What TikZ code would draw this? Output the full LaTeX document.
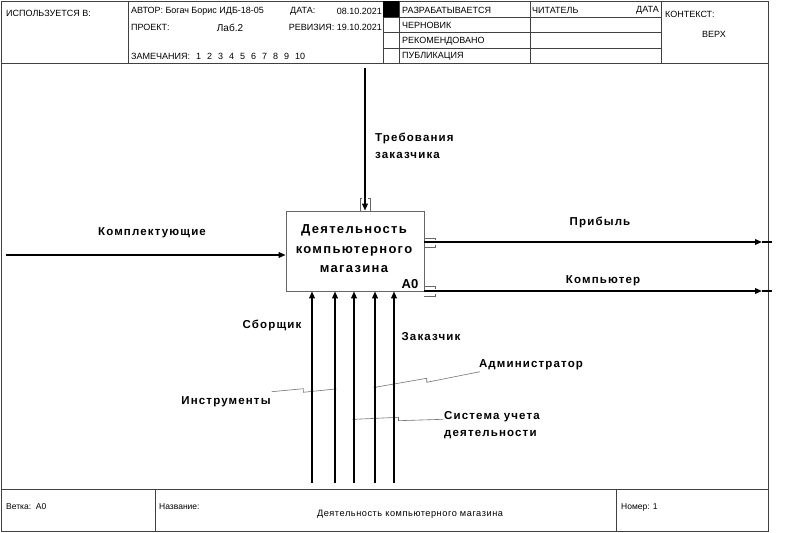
\documentclass[tikz,border=0pt]{standalone}
\usepackage{fontspec}
\setmainfont{Liberation Sans}
\newfontfamily\lblfont{Liberation Sans}[LetterSpace=10]
\newfontfamily\ftrfont{Liberation Sans}[LetterSpace=6]
\usetikzlibrary{arrows.meta}
\begin{document}
\begin{tikzpicture}[x=1pt,y=-1pt,
  frame/.style={draw=black!75, line width=0.7pt},
  hdr/.style={font=\fontsize{9}{10}\selectfont, inner sep=0, anchor=west},
  ftr/.style={font=\fontsize{8.5}{10}\selectfont, inner sep=0, anchor=west},
  lbl/.style={font=\lblfont\bfseries\fontsize{11.5}{17}\selectfont, inner sep=0, align=left},
  boxtxt/.style={font=\lblfont\bfseries\fontsize{13}{19.5}\selectfont, inner sep=0, align=center},
  flow/.style={line width=2.2pt, -{Triangle[length=7pt,width=5.5pt]}},
  plainline/.style={line width=2.2pt},
  leader/.style={draw=black!55, line width=0.6pt},
  tun/.style={draw=black!60, line width=0.6pt},
  jdot/.style={circle, fill=black, inner sep=0, minimum size=2.8pt}
]
\useasboundingbox (0,0) rectangle (799,532);
\fill[white] (0,0) rectangle (799,532);

% ---------- frame ----------
\draw[frame] (1,1) rectangle (768,531);
\draw[frame] (1,63) -- (768,63);
\draw[frame] (1,489) -- (768,489);
\foreach \x in {128,383,399,530,661} \draw[frame] (\x,1) -- (\x,63);
\foreach \y in {17,32,48} \draw[frame] (383,\y) -- (661,\y);
\fill[black] (383,1) rectangle (399,17);
\draw[frame] (155,489) -- (155,531);
\draw[frame] (616,489) -- (616,531);

% ---------- header texts ----------
\node[hdr] (used) at (6,13) {ИСПОЛЬЗУЕТСЯ В:};
\node[hdr] (author) at (131,11) {АВТОР: Богач Борис ИДБ-18-05};
\node[hdr] (datel) at (290,11) {ДАТА:};
\node[hdr,anchor=east] (datev) at (382,11) {08.10.2021};
\node[hdr] (proj) at (131,27) {ПРОЕКТ:};
\node[font=\fontsize{10}{12}\selectfont, inner sep=0] (lab) at (230,28) {Лаб.2};
\node[hdr,anchor=east] (rev) at (382,27) {РЕВИЗИЯ: 19.10.2021};
\node[hdr] (notes) at (131,56) {ЗАМЕЧАНИЯ:};
\foreach \n [count=\i] in {1,2,3,4,5,6,7,8,9,10}
  \node[hdr] (nt\i) at ({196+11*(\i-1)},56) {\n};
\node[hdr] (st1) at (402,10) {РАЗРАБАТЫВАЕТСЯ};
\node[hdr] (st2) at (402,25.5) {ЧЕРНОВИК};
\node[hdr] (st3) at (402,41) {РЕКОМЕНДОВАНО};
\node[hdr] (st4) at (402,56) {ПУБЛИКАЦИЯ};
\node[hdr] (reader) at (532,10) {ЧИТАТЕЛЬ};
\node[hdr,anchor=east] (rdate) at (659,10) {ДАТА};
\node[hdr] (ctx) at (665,14) {КОНТЕКСТ:};
\node[hdr,anchor=center] (ctxv) at (714,34) {ВЕРХ};

% ---------- footer texts ----------
\node[ftr] (branch) at (6,507) {Ветка:\ \ A0};
\node[ftr] (namel) at (159,507) {Название:};
\node[font=\ftrfont\fontsize{9.2}{10}\selectfont, inner sep=0] (namev) at (410,514) {Деятельность компьютерного магазина};
\node[ftr] (num) at (621,507) {Номер: 1};

% ---------- activity box ----------
\node[draw=black!60, line width=0.7pt, minimum width=138pt, minimum height=80pt, inner sep=0] (box) at (355,251) {};
\node[boxtxt] (boxlabel) at (354,249) {Деятельность\\компьютерного\\магазина};
\node[font=\bfseries\fontsize{13}{15}\selectfont, inner sep=0] (a0) at (410,284.5) {A0};

% ---------- input ----------
\coordinate (inS) at (6,255);
\draw[flow] (inS) -- (inS -| box.west);
\node[lbl] (inL) at (152,233) {Комплектующие};

% ---------- control ----------
\coordinate (ctlS) at (365,68);
\draw[flow] (ctlS) -- (ctlS |- box.north);
\draw[tun] (362,198) -- (360,198) -- (360,211);
\draw[tun] (368,198) -- (370,198) -- (370,211);
\node[lbl, anchor=west] (ctlL) at (375,145.5) {Требования\\заказчика};

% ---------- outputs ----------
\coordinate (o1e) at (772,242);
\coordinate (o1t) at (762,242);
\draw[flow] (o1e -| box.east) -- (o1t);
\draw[plainline] (o1t) -- (o1e);
\draw[tun] (424,238) -- (435,238) -- (435,240);
\draw[tun] (424,247) -- (435,247) -- (435,245);
\node[lbl] (o1L) at (600,222) {Прибыль};

\coordinate (o2e) at (772,291);
\coordinate (o2t) at (762,291);
\draw[flow] (o2e -| box.east) -- (o2t);
\draw[plainline] (o2t) -- (o2e);
\draw[tun] (424,286.5) -- (435,286.5) -- (435,288.5);
\draw[tun] (424,296) -- (435,296) -- (435,294);
\node[lbl] (o2L) at (603,281) {Компьютер};

% ---------- leaders ----------
\draw[leader] (271.7,391.7) -- (303.3,388.7) -- (303.3,392.3) -- (335,389);
\draw[leader] (375,387.3) -- (426.7,378.3) -- (426.7,382.3) -- (480,371.7);
\draw[leader] (354,419.3) -- (398.5,417.3) -- (398.5,420.7) -- (443.3,419.3);

% ---------- mechanisms ----------
\foreach \x [count=\i] in {312,335,354,375,394} {
  \coordinate (m\i) at (\x,483);
  \draw[flow] (m\i) -- (m\i |- box.south);
}
\node[jdot] (d1) at (335,389) {};
\node[jdot] (d2) at (375,387.3) {};
\node[jdot] (d3) at (354,419.3) {};

\node[lbl] (mL1) at (272,325) {Сборщик};
\node[lbl] (mL2) at (431,337) {Заказчик};
\node[lbl] (mL3) at (226,402) {Инструменты};
\node[lbl] (mL4) at (531,365) {Администратор};
\node[lbl, anchor=west] (mL5) at (444,425) {Система учета\\деятельности};
\end{tikzpicture}
\end{document}
